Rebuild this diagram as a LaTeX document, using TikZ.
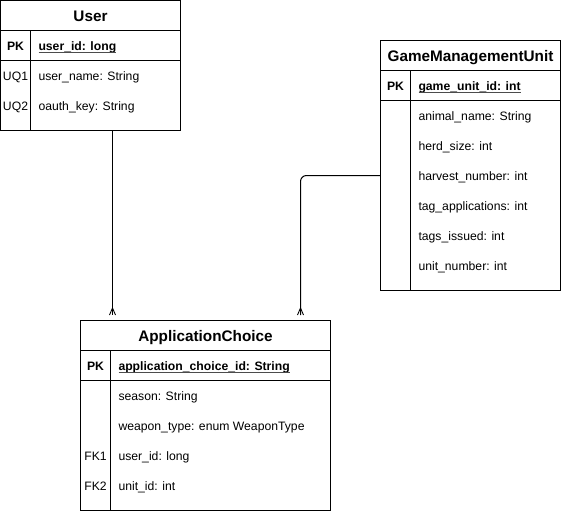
\documentclass[tikz,border=0pt]{standalone}
\usepackage{fontspec}
\setmainfont{Liberation Sans}
\newsavebox\keyulbox
% key field text with a thin underline just below the baseline
\newcommand\keyul[1]{\sbox\keyulbox{#1}\usebox\keyulbox\kern-\wd\keyulbox
  \textcolor{black!70}{\rule[-2.6pt]{\wd\keyulbox}{0.9pt}}}
\begin{document}
\begin{tikzpicture}[x=1pt,y=-1pt,line width=1pt,
  tbl/.style={draw,rectangle,anchor=north west,inner sep=0pt,outer sep=0pt},
  ttl/.style={anchor=base,inner sep=0pt,font=\fontsize{15.3}{18}\selectfont\bfseries},
  keycol/.style={anchor=base,inner sep=0pt,font=\fontsize{12.2}{14}\selectfont},
  pkcol/.style={keycol,font=\fontsize{12.2}{14}\selectfont\bfseries},
  fld/.style={anchor=base west,inner sep=0pt,font=\fontsize{12.2}{14}\selectfont},
  pkfld/.style={fld,font=\fontsize{12.2}{14}\selectfont\bfseries},
  rel/.style={line width=1pt},
  crow/.style={line width=0.9pt}]
\useasboundingbox (0,0) rectangle (561,511);

% ---------- User ----------
\node[tbl,minimum width=180pt,minimum height=130pt] (user) at (0.5,0.5) {};
\draw ([yshift=-30pt]user.north west) -- ([yshift=-30pt]user.north east);
\draw ([yshift=-60pt]user.north west) -- ([yshift=-60pt]user.north east);
\draw ([shift={(30pt,-30pt)}]user.north west) -- ([xshift=30pt]user.south west);
\node[ttl] (userT) at (90.5,21.7) {User};
\node[pkcol] (userK0) at (15.5,50) {PK};
\node[pkfld] (userF0) at (38,50) {\keyul{user\_id: long}};
\node[keycol] (userK1) at (15.5,80) {UQ1};
\node[fld] (userF1) at (38,80) {user\_name: String};
\node[keycol] (userK2) at (15.5,110) {UQ2};
\node[fld] (userF2) at (38,110) {oauth\_key: String};

% ---------- GameManagementUnit ----------
\node[tbl,minimum width=180pt,minimum height=250pt] (gmu) at (380.5,40.5) {};
\draw ([yshift=-30pt]gmu.north west) -- ([yshift=-30pt]gmu.north east);
\draw ([yshift=-60pt]gmu.north west) -- ([yshift=-60pt]gmu.north east);
\draw ([shift={(30pt,-30pt)}]gmu.north west) -- ([xshift=30pt]gmu.south west);
\node[ttl] (gmuT) at (470.5,61.7) {GameManagementUnit};
\node[pkcol] (gmuK0) at (395.5,90) {PK};
\node[pkfld] (gmuF0) at (418,90) {\keyul{game\_unit\_id: int}};
\node[fld] (gmuF1) at (418,120) {animal\_name: String};
\node[fld] (gmuF2) at (418,150) {herd\_size: int};
\node[fld] (gmuF3) at (418,180) {harvest\_number: int};
\node[fld] (gmuF4) at (418,210) {tag\_applications: int};
\node[fld] (gmuF5) at (418,240) {tags\_issued: int};
\node[fld] (gmuF6) at (418,270) {unit\_number: int};

% ---------- ApplicationChoice ----------
\node[tbl,minimum width=250pt,minimum height=190pt] (app) at (80.5,320.5) {};
\draw ([yshift=-30pt]app.north west) -- ([yshift=-30pt]app.north east);
\draw ([yshift=-60pt]app.north west) -- ([yshift=-60pt]app.north east);
\draw ([shift={(30pt,-30pt)}]app.north west) -- ([xshift=30pt]app.south west);
\node[ttl] (appT) at (205.5,341.7) {ApplicationChoice};
\node[pkcol] (appK0) at (95.5,370) {PK};
\node[pkfld] (appF0) at (118,370) {\keyul{application\_choice\_id: String}};
\node[fld] (appF1) at (118,400) {season: String};
\node[fld] (appF2) at (118,430) {weapon\_type: enum WeaponType};
\node[keycol] (appK3) at (95.5,460) {FK1};
\node[fld] (appF3) at (118,460) {user\_id: long};
\node[keycol] (appK4) at (95.5,490) {FK2};
\node[fld] (appF4) at (118,490) {unit\_id: int};

% ---------- Relationships (one-to-many, crow's foot at the many end) ----------
\coordinate (uend) at (112.5,315);
\draw[rel] (user.south -| uend) -- (uend);
\draw[crow] (uend) ++(-3,0) -- ++(3,-7) -- ++(3,7);

\coordinate (gsrc) at (gmu.west |- 0,175.5);
\coordinate (gend) at (300.5,315);
\draw[rel,rounded corners=6pt] (gsrc) -- (gend |- gsrc) -- (gend);
\draw[crow] (gend) ++(-3,0) -- ++(3,-7) -- ++(3,7);
\end{tikzpicture}
\end{document}
